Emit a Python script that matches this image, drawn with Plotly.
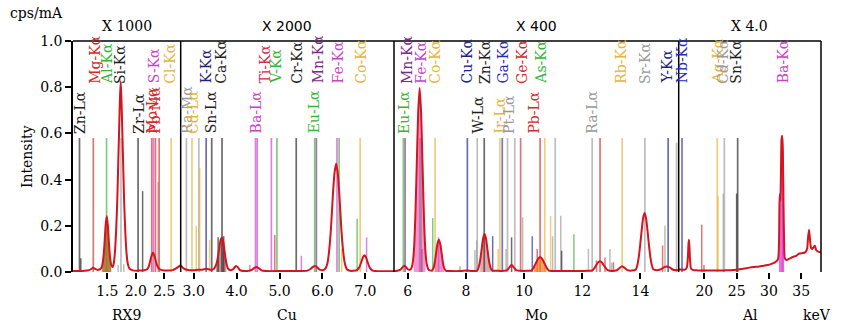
import plotly.graph_objects as go

# ---------------- data ----------------
PANEL_NAMES = ["RX9", "Cu", "Mo", "Al"]
PANEL_FACTORS = ["X 1000", "X 2000", "X 400", "X 4.0"]
PANEL_KEV_RANGE = [[0.898, 2.788], [2.697, 7.669], [5.529, 15.313], [16.04, 38.05]]
PANEL_TICKS = [[1.5, 2.0, 2.5], [3.0, 4.0, 5.0, 6.0, 7.0], [6, 8, 10, 12, 14], [20, 25, 30, 35]]
PANEL_TICK_TEXT = [["1.5", "2.0", "2.5"], ["3.0", "4.0", "5.0", "6.0", "7.0"],
                   ["6", "8", "10", "12", "14"], ["20", "25", "30", "35"]]
Y_TICKS = [0.0, 0.2, 0.4, 0.6, 0.8, 1.0]
Y_TICK_TEXT = ["0.0", "0.2", "0.4", "0.6", "0.8", "1.0"]

# measured spectra (cps/mA, scaled per panel)
RX9_KEV = [0.90, 1.00, 1.10, 1.18, 1.22, 1.25, 1.28, 1.33, 1.39, 1.41, 1.43, 1.45, 1.47, 1.49, 1.51, 1.53,
           1.55, 1.57, 1.595, 1.615, 1.635, 1.655, 1.675, 1.695, 1.71, 1.722, 1.735, 1.748, 1.76, 1.775,
           1.795, 1.815, 1.835, 1.86, 1.89, 1.95, 2.05, 2.15, 2.20, 2.23, 2.25, 2.27, 2.30, 2.33, 2.35,
           2.38, 2.42, 2.48, 2.56, 2.65, 2.72, 2.79]
RX9_INT = [0.004, 0.004, 0.005, 0.008, 0.013, 0.018, 0.014, 0.009, 0.015, 0.028, 0.06, 0.12, 0.20, 0.242,
           0.20, 0.12, 0.06, 0.03, 0.022, 0.04, 0.09, 0.18, 0.31, 0.50, 0.64, 0.75, 0.826, 0.75, 0.64, 0.50,
           0.31, 0.18, 0.09, 0.035, 0.015, 0.007, 0.006, 0.008, 0.012, 0.025, 0.045, 0.065, 0.083, 0.068,
           0.048, 0.025, 0.012, 0.007, 0.006, 0.008, 0.018, 0.03]

CU_KEV = [2.70, 2.74, 2.80, 2.90, 3.00, 3.10, 3.20, 3.30, 3.38, 3.46, 3.52, 3.56, 3.60, 3.63, 3.66, 3.69,
          3.72, 3.76, 3.80, 3.86, 3.92, 3.96, 3.99, 4.03, 4.08, 4.20, 4.34, 4.40, 4.46, 4.52, 4.58, 4.70,
          5.00, 5.40, 5.65, 5.73, 5.78, 5.83, 5.88, 5.94, 6.02, 6.08, 6.12, 6.16, 6.20, 6.24, 6.28, 6.32,
          6.36, 6.40, 6.44, 6.48, 6.52, 6.57, 6.65, 6.80, 6.86, 6.91, 6.95, 6.98, 7.01, 7.05, 7.10, 7.16,
          7.30, 7.50, 7.67]
CU_INT = [0.028, 0.02, 0.012, 0.008, 0.008, 0.01, 0.01, 0.014, 0.01, 0.012, 0.03, 0.06, 0.11, 0.14, 0.148,
          0.13, 0.09, 0.04, 0.015, 0.008, 0.012, 0.022, 0.026, 0.02, 0.008, 0.004, 0.008, 0.016, 0.022,
          0.016, 0.007, 0.004, 0.004, 0.004, 0.006, 0.014, 0.022, 0.026, 0.02, 0.01, 0.008, 0.018, 0.04,
          0.097, 0.19, 0.32, 0.425, 0.47, 0.425, 0.32, 0.19, 0.097, 0.04, 0.012, 0.005, 0.008, 0.02, 0.045,
          0.066, 0.073, 0.066, 0.045, 0.02, 0.007, 0.003, 0.003, 0.003]

MO_KEV = [5.53, 5.65, 5.75, 5.82, 5.88, 5.94, 6.00, 6.08, 6.11, 6.16, 6.21, 6.26, 6.31, 6.36, 6.41, 6.46,
          6.51, 6.56, 6.61, 6.66, 6.72, 6.82, 6.89, 6.94, 6.98, 7.02, 7.07, 7.12, 7.16, 7.20, 7.25, 7.32,
          7.50, 7.80, 8.05, 8.20, 8.39, 8.44, 8.49, 8.54, 8.59, 8.64, 8.69, 8.74, 8.79, 8.84, 8.89, 9.10,
          9.30, 9.40, 9.48, 9.57, 9.66, 9.74, 9.90, 10.10, 10.25, 10.33, 10.41, 10.48, 10.55, 10.62, 10.69,
          10.77, 10.85, 11.00, 11.40, 11.90, 12.20, 12.33, 12.41, 12.49, 12.56, 12.61, 12.68, 12.76, 12.85,
          12.95, 13.10, 13.20, 13.28, 13.37, 13.46, 13.55, 13.70, 13.84, 13.89, 13.94, 13.99, 14.04, 14.09,
          14.14, 14.19, 14.24, 14.29, 14.34, 14.39, 14.44, 14.55, 14.70, 14.80, 14.90, 15.00, 15.12, 15.31]
MO_INT = [0.004, 0.005, 0.01, 0.02, 0.027, 0.022, 0.012, 0.01, 0.012, 0.03, 0.087, 0.23, 0.46, 0.69, 0.797,
          0.69, 0.46, 0.23, 0.087, 0.03, 0.01, 0.006, 0.018, 0.049, 0.086, 0.121, 0.14, 0.121, 0.086, 0.049,
          0.018, 0.005, 0.004, 0.004, 0.006, 0.004, 0.006, 0.021, 0.051, 0.098, 0.145, 0.165, 0.145, 0.098,
          0.051, 0.021, 0.007, 0.005, 0.005, 0.007, 0.018, 0.03, 0.018, 0.007, 0.005, 0.005, 0.006, 0.02,
          0.04, 0.057, 0.065, 0.057, 0.04, 0.02, 0.006, 0.004, 0.004, 0.004, 0.005, 0.006, 0.016, 0.032,
          0.043, 0.046, 0.04, 0.025, 0.01, 0.005, 0.005, 0.008, 0.017, 0.025, 0.017, 0.008, 0.006, 0.011,
          0.029, 0.064, 0.117, 0.18, 0.234, 0.255, 0.234, 0.18, 0.117, 0.064, 0.029, 0.012, 0.008, 0.012,
          0.02, 0.024, 0.02, 0.01, 0.008]

AL_KEV = [16.04, 16.5, 17.0, 17.3, 17.45, 17.55, 17.62, 17.7, 17.8, 17.95, 18.3, 19.0, 20.0, 21.0, 22.0,
          23.0, 24.0, 25.0, 25.8, 26.5, 27.1, 27.8, 28.5, 29.2, 29.7, 30.2, 30.7, 31.1, 31.4, 31.55, 31.63,
          31.7, 31.77, 31.85, 31.95, 32.05, 32.15, 32.25, 32.35, 32.45, 32.7, 33.2, 33.7, 34.2, 34.7, 35.2,
          35.6, 35.9, 36.05, 36.2, 36.35, 36.5, 36.7, 36.9, 37.1, 37.3, 37.6, 38.0]
AL_INT = [0.012, 0.01, 0.01, 0.02, 0.06, 0.12, 0.14, 0.11, 0.05, 0.015, 0.008, 0.007, 0.006, 0.006, 0.006,
          0.007, 0.008, 0.01, 0.013, 0.016, 0.02, 0.022, 0.024, 0.027, 0.03, 0.033, 0.038, 0.045, 0.055,
          0.12, 0.30, 0.34, 0.31, 0.42, 0.575, 0.59, 0.52, 0.30, 0.12, 0.06, 0.052, 0.058, 0.065, 0.07, 0.08,
          0.082, 0.085, 0.10, 0.15, 0.183, 0.14, 0.105, 0.10, 0.108, 0.114, 0.095, 0.088, 0.085]

# element marker lines (family name, energy keV, relative height)
RX9_LINE_NAME = ["Zn-L", "Zn-L", "Mg-K", "Al-K", "Si-K", "Si-K", "Si-K", "Zr-L", "Zr-L", "Mo-L", "S-K",
                 "Pb-M", "Pt-M", "Mo-L", "Cl-K"]
RX9_LINE_KEV = [1.012, 1.035, 1.254, 1.487, 1.74, 1.69, 1.79, 2.04, 2.12, 2.28, 2.31, 2.345, 2.39, 2.41, 2.62]
RX9_LINE_HEIGHT = [0.58, 0.06, 0.58, 0.58, 0.58, 0.03, 0.035, 0.58, 0.35, 0.58, 0.58, 0.58, 0.39, 0.58, 0.58]

CU_LINE_NAME = ["Ra-M", "Cd-L", "Cd-L", "Pt-M", "Cd-L", "K-K", "Cd-L", "Sn-L", "Ca-K", "Ca-K", "Ca-K",
                "Ba-L", "Ba-L", "Ba-L", "Ba-L", "Ti-K", "V-K", "Cr-K", "Ba-L", "Eu-L", "Mn-K", "Fe-K",
                "Eu-L", "Co-K", "Eu-L", "Co-K", "Fe-K"]
CU_LINE_KEV = [2.83, 2.96, 3.06, 3.12, 3.14, 3.29, 3.37, 3.42, 3.57, 3.66, 3.70, 4.31, 4.44, 4.48, 4.81, 4.89,
               4.94, 5.39, 5.51, 5.82, 5.86, 6.34, 6.39, 6.45, 6.81, 6.88, 7.03]
CU_LINE_HEIGHT = [0.58, 0.58, 0.2, 0.58, 0.45, 0.58, 0.14, 0.58, 0.15, 0.58, 0.155, 0.03, 0.58, 0.58, 0.58,
                  0.16, 0.58, 0.58, 0.07, 0.58, 0.58, 0.58, 0.58, 0.1, 0.23, 0.58, 0.15]

MO_LINE_NAME = ["Eu-L", "Mn-K", "Fe-K", "Eu-L", "Mn-K", "Eu-L", "Co-K", "Fe-K", "Eu-L", "Cu-K", "W-L", "W-L",
                "W-L", "Zn-K", "Cu-K", "Ir-L", "Ir-L", "Ga-K", "Pt-L", "Pt-L", "Zn-K", "W-L", "Ge-K", "Pt-L",
                "Ga-K", "Pb-L", "Pb-L", "Ir-L", "Ir-L", "Pt-L", "Pt-L", "Pt-L", "Sn-K", "As-K", "Ra-L", "Ra-L",
                "Pb-L", "Pb-L", "Pb-L", "Ra-L", "Ra-L", "Pb-L", "Rb-K", "Sr-K", "Pb-L", "Sr-K", "Y-K", "Sr-K"]
MO_LINE_KEV = [5.85, 5.91, 6.41, 6.46, 6.49, 6.86, 6.94, 7.06, 7.80, 8.05, 8.31, 8.37, 8.39, 8.63, 8.92, 9.11,
               9.17, 9.25, 9.38, 9.43, 9.57, 9.68, 9.88, 9.95, 10.28, 10.45, 10.55, 10.71, 10.91, 10.98, 11.07,
               11.26, 11.29, 11.71, 12.21, 12.34, 12.49, 12.61, 12.78, 12.95, 13.01, 13.07, 13.37, 14.15, 14.76,
               14.84, 14.95, 15.24]
MO_LINE_HEIGHT = [0.58, 0.58, 0.58, 0.58, 0.1, 0.233, 0.58, 0.15, 0.025, 0.58, 0.095, 0.137, 0.58, 0.58,
                  0.155, 0.1, 0.58, 0.58, 0.1, 0.58, 0.15, 0.58, 0.58, 0.237, 0.155, 0.1, 0.58, 0.58, 0.243,
                  0.155, 0.58, 0.243, 0.092, 0.163, 0.1, 0.58, 0.05, 0.58, 0.063, 0.1, 0.04, 0.042, 0.58, 0.58,
                  0.115, 0.2, 0.58, 0.56]

AL_LINE_NAME = ["Nb-K", "Mo-K", "Mo-K", "Ag-K", "Ag-K", "Cd-K", "Cd-K", "Sn-K", "Sn-K", "Ba-K"]
AL_LINE_KEV = [16.55, 19.6, 19.95, 22.0, 22.12, 22.94, 23.1, 25.0, 25.16, 32.1]
AL_LINE_HEIGHT = [0.58, 0.205, 0.03, 0.58, 0.33, 0.34, 0.58, 0.34, 0.58, 0.58]

# line labels (text, energy keV)
RX9_LABEL = ["Zn-Lα", "Mg-Kα", "Al-Kα", "Si-Kα", "Zr-Lα", "Mo-Lα", "Pb-Mα", "S-Kα", "Cl-Kα"]
RX9_LABEL_KEV = [1.02, 1.27, 1.49, 1.72, 2.04, 2.28, 2.33, 2.32, 2.60]
CU_LABEL = ["Ra-Mα", "Cd-Lα", "K-Kα", "Sn-Lα", "Ca-Kα", "Ba-Lα", "Ti-Kα", "V-Kα", "Cr-Kα", "Eu-Lα",
            "Mn-Kα", "Fe-Kα", "Co-Kα"]
CU_LABEL_KEV = [2.83, 2.97, 3.29, 3.41, 3.64, 4.46, 4.67, 4.93, 5.40, 5.81, 5.90, 6.36, 6.90]
MO_LABEL = ["Eu-Lα", "Mn-Kα", "Fe-Kα", "Co-Kα", "Cu-Kα", "W-Lα", "Zn-Kα", "Ir-Lα", "Ga-Kα", "Pt-Lα",
            "Ge-Kα", "Pb-Lα", "As-Kα", "Ra-Lα", "Rb-Kα", "Sr-Kα", "Y-Kα"]
MO_LABEL_KEV = [5.87, 5.97, 6.46, 6.94, 8.05, 8.43, 8.63, 9.17, 9.29, 9.48, 9.92, 10.34, 10.60, 12.32, 13.35,
                14.15, 14.90]
AL_LABEL = ["Nb-Kα", "Ag-Kα", "Cd-Kα", "Sn-Kα", "Ba-Kα"]
AL_LABEL_KEV = [16.5, 22.16, 22.85, 24.9, 32.1]

# ---------------- style ----------------
SERIF = "DejaVu Serif"
SANS = "DejaVu Sans"
RED = "#d22a2a"
CRIMSON = "#d8284e"
GREEN = "#35b535"
BLACK = "#1e1e1e"
GRAY = "#9a9a9a"
GOLD = "#e6b53a"
MAGENTA = "#cc3ecc"
NAVY = "#202080"
BLUE = "#2a2ab0"
PURPLE = "#7a2a88"
ELEMENT_COLOR = {"Zn": BLACK, "Mg": RED, "Al": GREEN, "Si": BLACK, "Zr": BLACK, "Mo": RED, "S": MAGENTA,
                 "Pb": RED, "Cl": GOLD, "Ra": GRAY, "Cd": GOLD, "K": NAVY, "Sn": BLACK, "Ca": BLACK,
                 "Ba": MAGENTA, "Ti": CRIMSON, "V": GREEN, "Cr": BLACK, "Eu": GREEN, "Mn": PURPLE,
                 "Fe": MAGENTA, "Co": GOLD, "Cu": NAVY, "W": BLACK, "Ir": GOLD, "Ga": BLUE, "Pt": GRAY,
                 "Ge": RED, "As": GREEN, "Rb": GOLD, "Sr": GRAY, "Y": NAVY, "Nb": BLUE, "Ag": GOLD}
FAMILY_COLOR = {"Cd-K": GRAY}
LINE_COLOR_OVERRIDE = {"Si": GRAY, "W": GRAY}
SPECTRUM_COLOR = "#d4141e"
ROW_Y = {"K": 0.811, "L": 0.595, "M": 0.595}
# shaded peaks: panel index, keV window, colour
FILLS = [(0, 1.40, 1.58, "rgba(165,110,35,0.85)"),
         (1, 3.52, 3.78, "rgba(90,20,20,0.45)"),
         (2, 6.20, 6.62, "rgba(225,70,170,0.55)"),
         (2, 6.90, 7.25, "rgba(225,70,170,0.6)"),
         (2, 8.45, 8.85, "rgba(150,20,30,0.35)"),
         (2, 10.30, 10.80, "rgba(245,120,30,0.7)"),
         (3, 31.55, 32.42, "rgba(225,60,210,0.75)")]

PLOT_L, PLOT_R = 73, 821
BOUNDS_PX = [73, 180.7, 394, 678.7, 821]
DOMAINS = [[(BOUNDS_PX[i] - PLOT_L) / (PLOT_R - PLOT_L), (BOUNDS_PX[i + 1] - PLOT_L) / (PLOT_R - PLOT_L)]
           for i in range(4)]


def color_of(name, for_line=False):
    el, fam = name.split("-")
    key = el + "-" + fam[0]
    if key in FAMILY_COLOR:
        return FAMILY_COLOR[key]
    if for_line and el in LINE_COLOR_OVERRIDE:
        return LINE_COLOR_OVERRIDE[el]
    return ELEMENT_COLOR[el]


panels = [
    (RX9_KEV, RX9_INT, RX9_LINE_NAME, RX9_LINE_KEV, RX9_LINE_HEIGHT, RX9_LABEL, RX9_LABEL_KEV),
    (CU_KEV, CU_INT, CU_LINE_NAME, CU_LINE_KEV, CU_LINE_HEIGHT, CU_LABEL, CU_LABEL_KEV),
    (MO_KEV, MO_INT, MO_LINE_NAME, MO_LINE_KEV, MO_LINE_HEIGHT, MO_LABEL, MO_LABEL_KEV),
    (AL_KEV, AL_INT, AL_LINE_NAME, AL_LINE_KEV, AL_LINE_HEIGHT, AL_LABEL, AL_LABEL_KEV),
]

fig = go.Figure()
annotations = []
layout_axes = {}

for i, (kev, inten, lname, lkev, lh, lab, labkev) in enumerate(panels):
    ax = "x" if i == 0 else f"x{i + 1}"
    # marker lines
    for n, e, h in zip(lname, lkev, lh):
        fig.add_trace(go.Scatter(x=[e, e], y=[0, h], mode="lines", xaxis=ax, yaxis="y",
                                 line=dict(color=color_of(n, True), width=1.7 if h > 0.5 else 1.5),
                                 opacity=0.65, hoverinfo="skip", showlegend=False))
    # shaded peaks
    for (p, lo, hi, fc) in FILLS:
        if p != i:
            continue
        fx = [e for e in kev if lo <= e <= hi]
        fy = [v for e, v in zip(kev, inten) if lo <= e <= hi]
        fig.add_trace(go.Scatter(x=fx, y=fy, mode="lines", fill="tozeroy", fillcolor=fc,
                                 line=dict(width=0, shape="spline", smoothing=0.6),
                                 xaxis=ax, yaxis="y", hoverinfo="skip", showlegend=False))
    # spectrum
    fig.add_trace(go.Scatter(x=kev, y=inten, mode="lines", xaxis=ax, yaxis="y",
                             line=dict(color=SPECTRUM_COLOR, width=2, shape="spline", smoothing=0.6),
                             hoverinfo="skip", showlegend=False))
    # labels
    for t, e in zip(lab, labkev):
        fam = t.split("-")[1][0]
        annotations.append(dict(x=e, y=ROW_Y[fam], xref=ax, yref="y", text=t, textangle=-90,
                                xanchor="center", yanchor="bottom", showarrow=False, borderpad=0,
                                font=dict(family=SERIF, size=14, color=color_of(t))))
    key = "xaxis" if i == 0 else f"xaxis{i + 1}"
    layout_axes[key] = dict(domain=DOMAINS[i], range=PANEL_KEV_RANGE[i], anchor="y",
                            tickvals=PANEL_TICKS[i], ticktext=PANEL_TICK_TEXT[i],
                            ticks="outside", ticklen=6, tickwidth=1.5, tickcolor="black",
                            showgrid=False, zeroline=False, showline=False,
                            tickfont=dict(family=SERIF, size=14, color="black"))
    mid = sum(DOMAINS[i]) / 2
    annotations.append(dict(x=mid, y=1.065, xref="paper", yref="paper", text=PANEL_FACTORS[i],
                            showarrow=False, xanchor="center", yanchor="middle",
                            font=dict(family=SERIF if i in (0, 3) else SANS, size=14, color="black")))
    annotations.append(dict(x=mid, y=-0.185, xref="paper", yref="paper", text=PANEL_NAMES[i],
                            showarrow=False, xanchor="center", yanchor="middle",
                            font=dict(family=SERIF, size=14, color="black")))

annotations.append(dict(x=1.016, y=-0.185, xref="paper", yref="paper", text="keV", showarrow=False,
                        xanchor="right", yanchor="middle", font=dict(family=SERIF, size=14, color="black")))
annotations.append(dict(x=-0.049, y=1.12, xref="paper", yref="paper", text="cps/mA", showarrow=False,
                        xanchor="center", yanchor="middle", font=dict(family=SERIF, size=14, color="black")))
annotations.append(dict(x=-0.062, y=0.5, xref="paper", yref="paper", text="Intensity", showarrow=False,
                        textangle=-90, xanchor="center", yanchor="middle",
                        font=dict(family=SERIF, size=14, color="black")))

shapes = [dict(type="line", xref="paper", yref="paper", x0=0, x1=1, y0=1, y1=1,
               line=dict(color="black", width=1.5)),
          dict(type="line", xref="paper", yref="paper", x0=1, x1=1, y0=0, y1=1,
               line=dict(color="black", width=1.5))]
for d in DOMAINS[1:]:
    shapes.append(dict(type="line", xref="paper", yref="paper", x0=d[0], x1=d[0], y0=0, y1=1,
                       line=dict(color="black", width=1.5)))

fig.update_layout(
    width=841, height=332,
    margin=dict(l=73, r=20, t=41, b=60),
    paper_bgcolor="white", plot_bgcolor="white",
    yaxis=dict(range=[0, 1.0], tickvals=Y_TICKS, ticktext=Y_TICK_TEXT, ticks="outside", ticklen=6,
               tickwidth=1.5, tickcolor="black", showline=True, linecolor="black", linewidth=1.5,
               showgrid=False, zeroline=False, anchor="x",
               tickfont=dict(family=SERIF, size=14, color="black")),
    annotations=annotations,
    shapes=shapes,
    **layout_axes,
)

fig.write_html("out.html")
